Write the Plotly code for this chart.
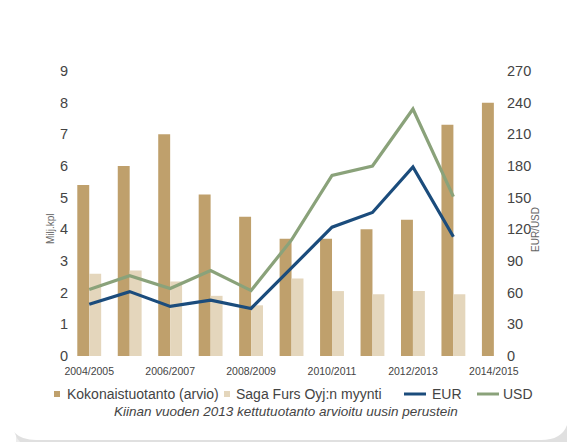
import plotly.graph_objects as go

categories = ["2004/2005", "2005/2006", "2006/2007", "2007/2008", "2008/2009", "2009/2010",
              "2010/2011", "2011/2012", "2012/2013", "2013/2014", "2014/2015"]
kokonais = [5.4, 6.0, 7.0, 5.1, 4.4, 3.7, 3.7, 4.0, 4.3, 7.3, 8.0]
saga = [2.6, 2.7, 2.35, 1.9, 1.6, 2.45, 2.05, 1.95, 2.05, 1.95, None]
eur = [49, 61, 47, 53, 45, 84, 122, 136, 179, 113, None]
usd = [63, 76, 64, 81, 62, 110, 171, 180, 234, 151, None]
shown_ticks = ["2004/2005", "2006/2007", "2008/2009", "2010/2011", "2012/2013", "2014/2015"]
left_ticks = list(range(0, 10))
right_ticks = list(range(0, 271, 30))
legend_names = ["Kokonaistuotanto (arvio)", "Saga Furs Oyj:n myynti", "EUR", "USD"]
note = "Kiinan vuoden 2013 kettutuotanto arvioitu uusin perustein"

# page body has an 8px margin: figure is drawn at (8, 8) in the window
OFF = 8
W, H = 575 - OFF, 442 - OFF
ML, MT = 69 - OFF, 71 - OFF
MR = W - (506 - OFF)
MB = H - (356 - OFF)
PW = W - ML - MR
PH = H - MT - MB

def px(x):
    # x in window pixels -> paper
    return (x - OFF - ML) / PW

def py(y):
    # y in window pixels (top-left origin) -> paper
    return (H - MB - (y - OFF)) / PH

FONT = "Liberation Sans, Arial, sans-serif"
GREY = "#444444"
C_KOK = "#bfa06c"
C_SAGA = "#e4d6bc"
C_EUR = "#1b4c7c"
C_USD = "#8aa27a"

fig = go.Figure()
fig.add_trace(go.Bar(x=categories, y=kokonais, name=legend_names[0],
                     marker=dict(color=C_KOK, line=dict(width=0))))
fig.add_trace(go.Bar(x=categories, y=saga, name=legend_names[1],
                     marker=dict(color=C_SAGA, line=dict(width=0))))
fig.add_trace(go.Scatter(x=categories, y=eur, name=legend_names[2], mode="lines", yaxis="y2",
                         line=dict(color=C_EUR, width=3.2)))
fig.add_trace(go.Scatter(x=categories, y=usd, name=legend_names[3], mode="lines", yaxis="y2",
                         line=dict(color=C_USD, width=3.2)))

def rounded(xa, ya, xb, yb, r, color):
    x0, x1 = px(xa), px(xb)
    yt, yb_ = py(ya), py(yb)
    rx, ry = r / PW, r / PH
    path = (f"M {x0+rx},{yb_} L {x1-rx},{yb_} Q {x1},{yb_} {x1},{yb_+ry} "
            f"L {x1},{yt-ry} Q {x1},{yt} {x1-rx},{yt} L {x0+rx},{yt} Q {x0},{yt} {x0},{yt-ry} "
            f"L {x0},{yb_+ry} Q {x0},{yb_} {x0+rx},{yb_} Z")
    return dict(type="path", path=path, xref="paper", yref="paper",
                fillcolor=color, line=dict(width=0), layer="below")

shapes = [
    rounded(16, 4, 600, 470, 30, "#ededed"),
    rounded(13, 0, 585, 450, 30, "#e0e0e0"),
    rounded(8, -30, 569, 440, 28, "white"),
]

LY = 394
shapes.append(dict(type="rect", xref="paper", yref="paper", x0=px(54), x1=px(60),
                   y0=py(LY + 3), y1=py(LY - 3), fillcolor=C_KOK, line=dict(width=0)))
shapes.append(dict(type="rect", xref="paper", yref="paper", x0=px(224), x1=px(230),
                   y0=py(LY + 3), y1=py(LY - 3), fillcolor=C_SAGA, line=dict(width=0)))
shapes.append(dict(type="line", xref="paper", yref="paper", x0=px(404), x1=px(426),
                   y0=py(LY), y1=py(LY), line=dict(color=C_EUR, width=3)))
shapes.append(dict(type="line", xref="paper", yref="paper", x0=px(477), x1=px(499),
                   y0=py(LY), y1=py(LY), line=dict(color=C_USD, width=3)))

annotations = [
    dict(text="Milj.kpl", x=px(43), y=py(228.5), xref="paper", yref="paper",
         showarrow=False, textangle=-90, font=dict(size=10, color="#666666")),
    dict(text="EUR/USD", x=px(543), y=py(229.5), xref="paper", yref="paper",
         showarrow=False, textangle=-90, font=dict(size=10, color="#666666")),
    dict(text="<i>" + note + "</i>", x=px(286), y=py(421), xref="paper", yref="paper",
         showarrow=False, font=dict(size=13.5, color=GREY)),
]
for name, xs in zip(legend_names, [65, 234, 430, 501]):
    annotations.append(dict(text=name, x=px(xs), y=py(LY), xref="paper", yref="paper",
                            xanchor="left", yanchor="middle", showarrow=False,
                            font=dict(size=14, color=GREY)))

fig.update_layout(
    width=W, height=H,
    margin=dict(l=ML, r=MR, t=MT, b=MB),
    paper_bgcolor="white",
    plot_bgcolor="rgba(0,0,0,0)",
    barmode="group", bargap=0.41, bargroupgap=0,
    font=dict(family=FONT, color=GREY),
    shapes=shapes,
    annotations=annotations,
    showlegend=False,
    xaxis=dict(type="category", range=[-0.5, 10.3], tickvals=shown_ticks, ticktext=shown_ticks,
               showgrid=False, zeroline=False, showline=False, ticks="",
               tickfont=dict(size=10.5, color=GREY), tickangle=0, ticklabelstandoff=7),
    yaxis=dict(range=[0, 9], tickvals=left_ticks, showgrid=False, zeroline=False,
               showline=False, ticks="", tickfont=dict(size=14.5, color=GREY)),
    yaxis2=dict(range=[0, 270], tickvals=right_ticks, overlaying="y", side="right",
                showgrid=False, zeroline=False, showline=False, ticks="",
                tickfont=dict(size=14.5, color=GREY)),
)

fig.write_html("out.html")
